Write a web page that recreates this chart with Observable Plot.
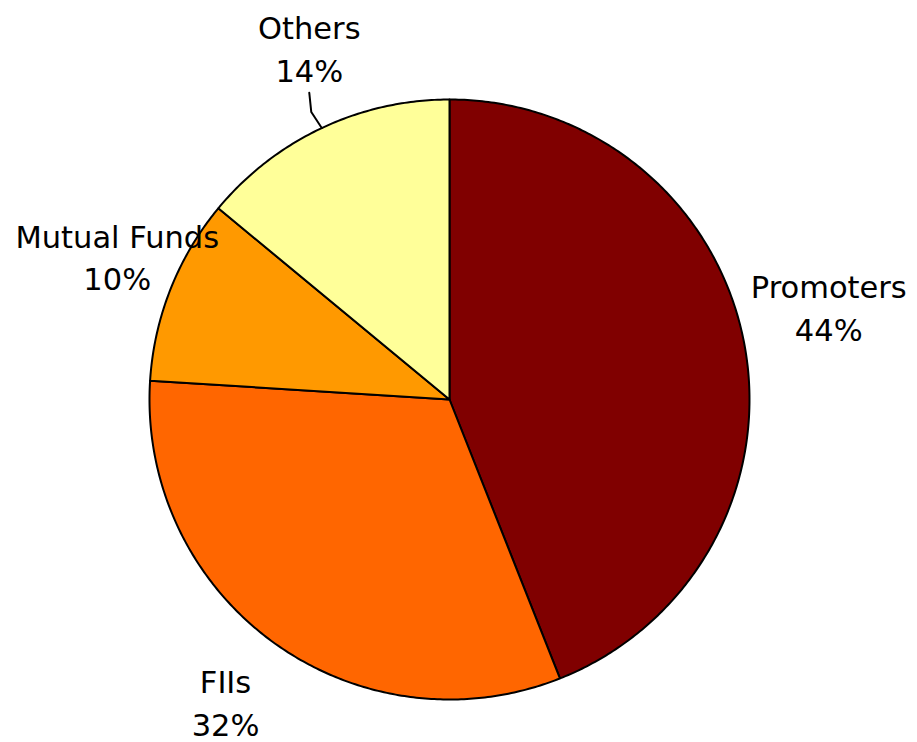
<!DOCTYPE html>
<html>
<head>
<meta charset="utf-8">
<script src="https://cdn.jsdelivr.net/npm/d3@7"></script>
<script src="https://cdn.jsdelivr.net/npm/@observablehq/plot@0.6"></script>
<style>
  html, body { margin: 0; padding: 0; background: #ffffff; }
  #chart svg { display: block; }
</style>
</head>
<body>
<div id="chart"></div>
<script>
// ---- data ----
const categories = ["Promoters", "FIIs", "Mutual Funds", "Others"];
const shares = [44, 32, 10, 14];
const percentLabels = ["44%", "32%", "10%", "14%"];
const sliceColors = ["#800000", "#FF6600", "#FF9900", "#FFFF99"];

// ---- layout (pixels) ----
const W = 917, H = 742;
const R = 300;            // pie radius in px
const CX = 449, CY = 399; // pie centre in px
const labelRadius = 1.27; // label distance (in radii)
const labelNudgePx = {    // fine placement of labels, px (dx, dy: +down)
  "Promoters": [5, -22],
  "FIIs": [0, -7],
  "Mutual Funds": [22, -4],
  "Others": [22, -8]
};

const data = categories.map((c, i) => ({name: c, value: shares[i], pct: percentLabels[i]}));
const arcs = d3.pie().sort(null).value(d => d.value).startAngle(0).endAngle(2 * Math.PI)(data);

// slice outlines as polygons in unit coordinates (y up)
const poly = [];
for (const a of arcs) {
  poly.push({name: a.data.name, x: 0, y: 0});
  const n = Math.max(8, Math.ceil((a.endAngle - a.startAngle) / 0.01));
  for (let k = 0; k <= n; k++) {
    const t = a.startAngle + (a.endAngle - a.startAngle) * k / n;
    poly.push({name: a.data.name, x: Math.sin(t), y: Math.cos(t)});
  }
  poly.push({name: a.data.name, x: 0, y: 0});
}

// labels
const labels = arcs.map(a => {
  const m = (a.startAngle + a.endAngle) / 2;
  const nd = labelNudgePx[a.data.name] || [0, 0];
  return {
    name: a.data.name,
    text: a.data.name + "\n" + a.data.pct,
    x: labelRadius * Math.sin(m) + nd[0] / R,
    y: labelRadius * Math.cos(m) - nd[1] / R,
    mid: m
  };
});

// leader line for "Others"
const leader = [];
{
  const L = labels.find(d => d.name === "Others");
  const sx = Math.sin(L.mid), sy = Math.cos(L.mid);
  const ex = L.x, ey = L.y - 46 / R;
  leader.push({x: sx, y: sy});
  leader.push({x: ex + 2 / R, y: sy + 16 / R});
  leader.push({x: ex, y: ey});
}

const chart = Plot.plot({
  width: W,
  height: H,
  margin: 0,
  style: {background: "#ffffff"},
  x: {domain: [-CX / R, (W - CX) / R], axis: null},
  y: {domain: [-(H - CY) / R, CY / R], axis: null},
  color: {domain: categories, range: sliceColors},
  marks: [
    Plot.line(poly, {x: "x", y: "y", z: "name", fill: "name", stroke: "#000000", strokeWidth: 2, strokeLinejoin: "round", curve: "linear"}),
    Plot.line(leader, {x: "x", y: "y", stroke: "#000000", strokeWidth: 2, curve: "linear"}),
    Plot.text(labels, {x: "x", y: "y", text: "text", fontFamily: "DejaVu Sans", fontSize: 30.5, lineHeight: 1.4, fill: "#000000", textAnchor: "middle"})
  ]
});
document.getElementById("chart").appendChild(chart);
</script>
</body>
</html>
